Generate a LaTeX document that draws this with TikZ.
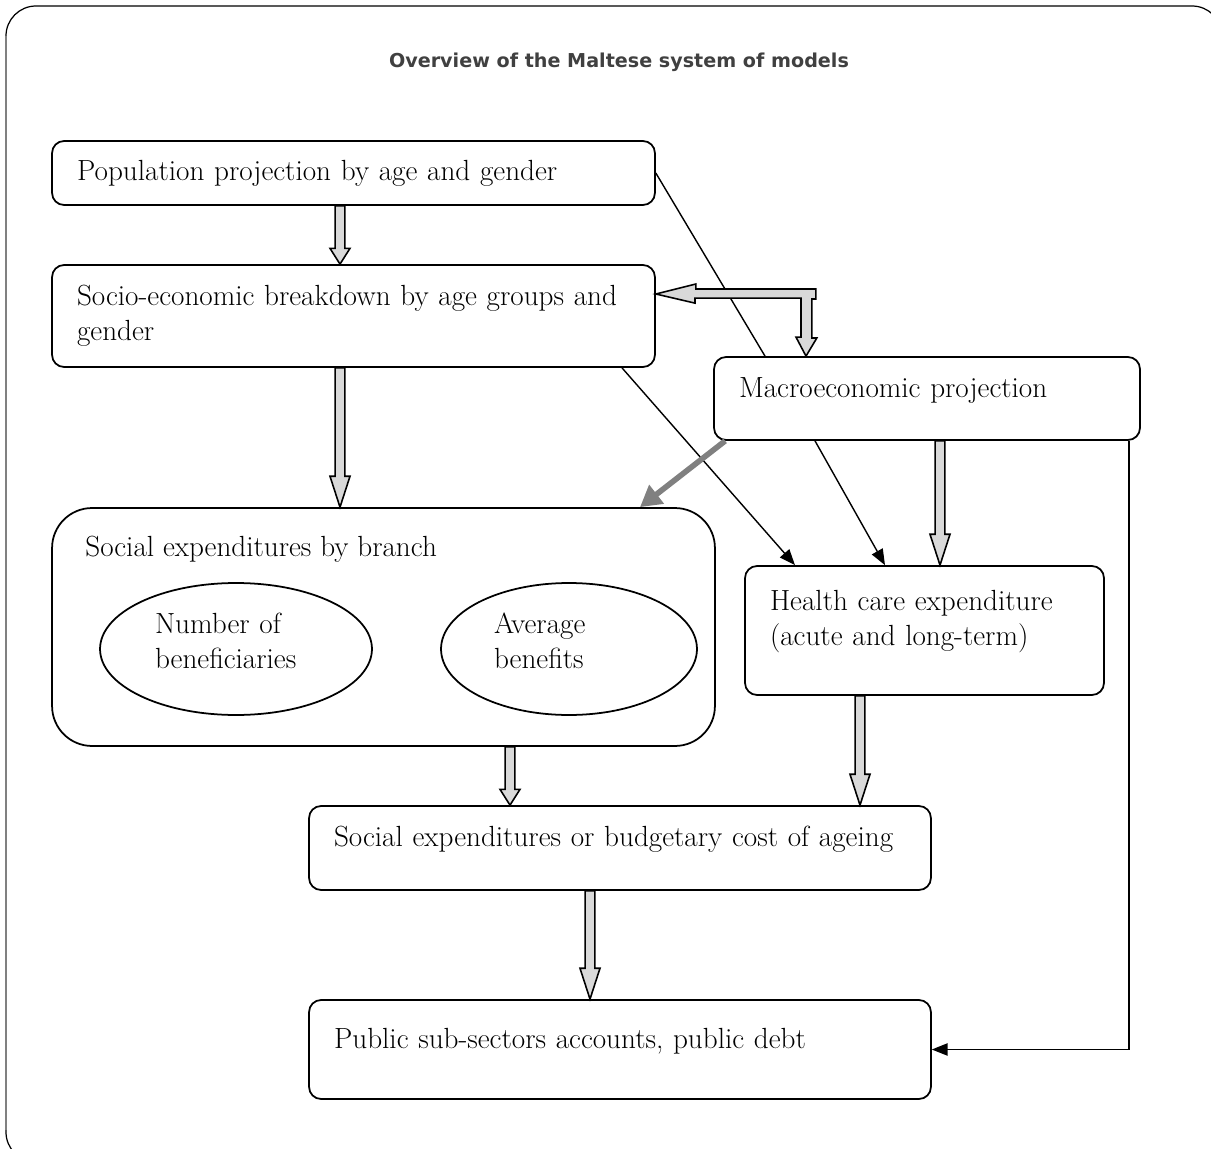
\documentclass[tikz,border=0pt]{standalone}
\usepackage{fontspec}
\newfontfamily\titlefont{DejaVu Sans}
\usetikzlibrary{positioning, calc, arrows.meta, shapes.geometric}

% block arrow pointing down, x from the first point, tip at the y of the second
\newcommand{\fatdown}[3][9pt]{%
  \draw[fatarrow] let \p1=#2, \p2=#3 in
    (\x1-2.8pt,\y1) -- (\x1+2.8pt,\y1) -- (\x1+2.8pt,\y2+#1) -- (\x1+5.7pt,\y2+#1)
    -- (\x1,\y2) -- (\x1-5.7pt,\y2+#1) -- (\x1-2.8pt,\y2+#1) -- cycle;}

\begin{document}
\begin{tikzpicture}[x=0.02cm, y=-0.02cm,
    boxnode/.style={rectangle, rounded corners=0.24cm, draw, line width=1pt, align=left, inner xsep=0.5cm, font=\fontsize{16.6}{20}\selectfont},
    raised/.style={text depth=13pt},
    raisedtwo/.style={text depth=34pt},
    ovalnode/.style={ellipse, draw, line width=1pt, align=left, inner sep=0pt, text depth=29pt, font=\fontsize{16.6}{20}\selectfont},
    titlenode/.style={text=black!75, font=\titlefont\bfseries\fontsize{10.9}{12}\selectfont},
    fatarrow/.style={draw, line width=0.9pt, fill=black!15, line join=miter},
    thinarrow/.style={line width=0.8pt, -{Triangle[length=9pt, width=7pt]}},
    grayarrow/.style={draw=black!50, line width=3.2pt, -{Triangle[length=12pt, width=13pt]}}]
    \useasboundingbox (0,0) rectangle (1211,1149);
    % Frame
    \draw[line width=0.7pt, rounded corners=0.6cm] (6,6) rectangle (1222,1162);
    \draw[black!50, line width=1.2pt] (6,36) -- (6,1130);
    % Node
    \node[titlenode] (title) at (619,62) {Overview of the Maltese system of models};
    \node[boxnode, text width=11.06cm, minimum height=1.28cm] (pop) at (353.5,173) {Population projection by age and gender};
    \node[boxnode, text width=11.06cm, minimum height=2.04cm] (socio) at (353.5,316) {Socio-economic breakdown by age groups and\\gender};
    \node[boxnode, raised, text width=7.52cm, minimum height=1.66cm] (macro) at (927,398.5) {Macroeconomic projection};
    \node[boxnode, rounded corners=0.8cm, minimum width=13.26cm, minimum height=4.76cm] (branch) at (383.5,627) {};
    \node[anchor=base west, font=\fontsize{16.6}{20}\selectfont, inner sep=0pt] (branchtext) at (85,556) {Social expenditures by branch};
    \node[ovalnode, text width=3.24cm, minimum width=5.44cm, minimum height=2.64cm] (benef) at (236,649) {Number of\\beneficiaries};
    \node[ovalnode, text width=3cm, minimum width=5.12cm, minimum height=2.64cm] (avg) at (569,649) {Average\\benefits};
    \node[boxnode, raisedtwo, text width=6.18cm, minimum height=2.58cm] (health) at (924.5,630.5) {Health care expenditure\\(acute and long-term)};
    \node[boxnode, raised, text width=11.44cm, minimum height=1.68cm] (socexp) at (620,848) {Social expenditures or budgetary cost of ageing};
    \node[boxnode, raised, text width=11.44cm, minimum height=1.98cm] (public) at (620,1049.5) {Public sub-sectors accounts, public debt};
    % Lines
    \draw[line width=0.8pt] (pop.east) -- (765,0 |- macro.north);
    \draw[thinarrow] (622,0 |- socio.south) -- (795,0 |- health.north);
    \draw[thinarrow] (815,0 |- macro.south) -- (885,0 |- health.north);
    \draw[thinarrow] (1129,0 |- macro.south) |- (public.east);
    \draw[grayarrow] ([xshift=0.24cm]macro.south west) -- (640,0 |- branch.north);
    % Block arrows
    \fatdown{(340,0 |- pop.south)}{(socio.north)}
    \fatdown[17.6pt]{(340,0 |- socio.south)}{(branch.north)}
    \fatdown[17.6pt]{(940,0 |- macro.south)}{(health.north)}
    \fatdown{(510,0 |- branch.south)}{(socexp.north)}
    \fatdown[17.6pt]{(860,0 |- health.south)}{(socexp.north)}
    \fatdown[17.6pt]{(590,0 |- socexp.south)}{(public.north)}
    \coordinate (lt) at (socio.east |- 0,294);
    \coordinate (dt) at (806,0 |- macro.north);
    \draw[fatarrow] (lt) -- ++(40,-10) -- ++(0,5) -- ++(120,0) -- ++(0,10) -- ++(-4,0)
      -- ++(0,39) -- ++(5,0) -- (dt) -- ++(-10,-19) -- ++(5,0) -- ++(0,-39)
      -- ++(-106,0) -- ++(0,5) -- cycle;
\end{tikzpicture}
\end{document}
